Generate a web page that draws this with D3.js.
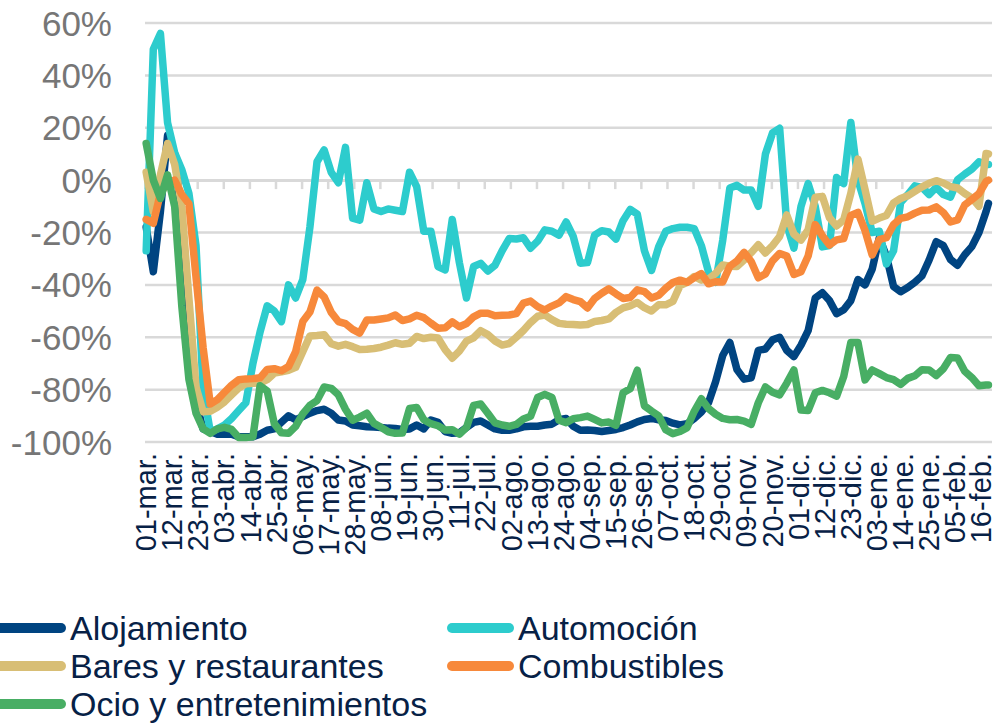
<!DOCTYPE html>
<html>
<head>
<meta charset="utf-8">
<script src="https://cdn.jsdelivr.net/npm/d3@7"></script>
<style>
  body { margin: 0; background: #fff; }
  svg text { font-family: "Liberation Sans", Arial, sans-serif; }
</style>
</head>
<body>
<svg id="chart" width="1000" height="724"></svg>
<script>
// sampled days (offset from 01-mar-2020), one value every 3 days
var sampleDays = d3.range(0, 355, 3).concat([355]);

var tickLabels = ['01-mar.','12-mar.','23-mar.','03-abr.','14-abr.','25-abr.','06-may.','17-may.','28-may.',
  '08-jun.','19-jun.','30-jun.','11-jul.','22-jul.','02-ago.','13-ago.','24-ago.','04-sep.','15-sep.',
  '26-sep.','07-oct.','18-oct.','29-oct.','09-nov.','20-nov.','01-dic.','12-dic.','23-dic.','03-ene.',
  '14-ene.','25-ene.','05-feb.','16-feb.'];

var yTicks = [60, 40, 20, 0, -20, -40, -60, -80, -100];

var alojamiento = [
  -18, -35, -12, 17, 10, -15, -62, -85, -95, -96,
  -97, -97, -97, -98, -98, -98, -97, -95.5, -95, -92.5,
  -90, -91.5, -90.3, -89, -88, -87.5, -89, -91.6, -92, -93.5,
  -93.8, -94.2, -94.3, -94.5, -94.7, -94.8, -95.2, -95, -93.5, -95,
  -91.6, -92.5, -96, -96.7, -96.5, -94.5, -92.5, -92, -93.5, -95,
  -95.5, -95.5, -95, -94.2, -94, -94, -93.5, -93.2, -91.5, -91,
  -94, -95.5, -95.4, -95.6, -96, -95.6, -95.2, -94.5, -93.5, -92.3,
  -91.4, -91, -91.5, -91.8, -92.8, -93.5, -93, -91, -88.5, -85,
  -77, -67, -62, -72.3, -76, -75.5, -65, -64.5, -61, -60,
  -65, -67.4, -63, -57.5, -45, -43, -46, -51, -49.5, -46,
  -38, -40, -34, -22, -29, -40.6, -42.6, -41, -39, -36.5,
  -30.5, -23.5, -25, -30.3, -32.5, -28.5, -25.4, -20, -12, -8.9];

var automocion = [
  -27, 50, 56, 22, 10.5, 4, -5, -25, -80, -96,
  -95, -93.5, -91, -88, -85, -70, -58, -48, -50, -54,
  -40, -45, -38, -18, 7, 11.5, 3, -1, 12.5, -14.5,
  -15.3, -1, -11, -12, -11, -11.5, -12, 3, -2.5, -19.5,
  -19.5, -33, -34.3, -15, -31.5, -45, -33, -31.8, -34.7, -32.5,
  -27, -22.3, -22.5, -22, -26, -23.3, -19, -19.5, -21, -16,
  -21.5, -31.7, -31.5, -21, -19.3, -19.8, -22.5, -15.5, -11.2, -13,
  -27, -34.5, -25.5, -19.5, -18.5, -18, -18, -18.5, -25, -35,
  -39, -23, -3, -2, -3.8, -3.8, -10, 10, 18, 19.8,
  -17, -26, -10, -1.3, -10, -25.5, -25, 1, -1.3, 22,
  0, -9, -20, -19.5, -32, -27, -8.5, -5.5, -2.2, -2.8,
  -5.5, -2.8, -5.5, -6.5, 0.2, 2.3, 4.2, 7, 6, 6];

var bares = [
  3, -12, 2, 14, 6, -10, -45, -79, -88.5, -88.3,
  -86.7, -84.7, -82, -79.4, -77.8, -77.6, -77.5, -76.2, -73.7, -73.2,
  -72.6, -71.5, -65.5, -59.5, -59.3, -59, -62.5, -63.4, -62.7, -63.6,
  -64.7, -64.6, -64.3, -63.8, -63, -62.1, -62.7, -62.3, -59.7, -60.5,
  -60, -60.3, -64.7, -68, -65.3, -61.5, -60.2, -57.5, -59, -61.4,
  -63, -62.4, -60, -57.4, -54.4, -52, -51.5, -53.3, -54.7, -55,
  -55.1, -55.3, -55.1, -54, -53.6, -53, -50.5, -48.8, -48, -46.7,
  -48.7, -50, -47.6, -47.6, -46.3, -40.3, -39, -36.8, -38.2, -37.8,
  -35.6, -32.4, -32.9, -33, -30.5, -27.7, -24.7, -27.8, -25, -21.5,
  -13.3, -20.6, -22.9, -19, -6.5, -6.2, -14.4, -17.5, -15.2, -5,
  8, -3.6, -15.7, -14.5, -13.5, -8.7, -7, -6, -4.3, -2.6,
  -1.2, -0.2, -1.1, -2.5, -3, -5.1, -6.8, -10, 10.2, 10];

var combustibles = [
  -15, -16.5, -5, -1, 0, -5.5, -9, -37, -64, -85.5,
  -83.8, -81, -78.3, -76.2, -75.9, -75.8, -75.5, -72.3, -72, -72.8,
  -71.2, -65.5, -54, -50.4, -42, -44.6, -50.5, -54, -54.8, -57,
  -58.4, -53.4, -53.4, -53, -52.6, -51.5, -53.6, -53, -51.6, -52.5,
  -54.6, -56.6, -56.4, -54.1, -56, -54.8, -52.2, -50.8, -50.8, -51.8,
  -51.6, -51.5, -51, -47, -46.2, -48.3, -49.6, -48.1, -46.9, -44.5,
  -45.6, -46.4, -48.8, -45.2, -43.2, -41.5, -43.4, -45.2, -44.8, -41.9,
  -42.6, -45, -44, -41.3, -39.1, -38.2, -39, -37.2, -35.7, -39.6,
  -38.8, -38.9, -32.9, -30.9, -27.6, -31.1, -37.3, -35.8, -30.8, -28,
  -29, -36, -35, -29, -17, -21.2, -24.8, -22.8, -22.3, -13.5,
  -12.3, -19.3, -28.6, -22.7, -22, -17, -14.6, -14, -12.6, -11.5,
  -11.4, -10.2, -12.4, -16, -15.2, -9.5, -7.4, -5.2, -0.6, 0];

var ocio = [
  14, 0, -7, 2, -10, -48, -76, -89, -95, -96.7,
  -95, -94.4, -95.2, -98.3, -98.3, -98, -78.5, -80.5, -93, -96.5,
  -96.7, -94, -89.3, -86, -84.2, -79, -79.5, -82, -87.5, -91.7,
  -90.5, -89, -92.9, -94.4, -96.1, -96.7, -96.6, -87.2, -86.8, -91.5,
  -93, -93.8, -95.4, -95.3, -97, -94.5, -86, -85.5, -89, -92.7,
  -93.5, -94, -93.3, -91.2, -90.2, -83, -81.8, -83, -91.7, -92.6,
  -91.1, -90.7, -90.1, -91.4, -92.7, -92.4, -93.6, -81.2, -79.7, -72.6,
  -86.2, -88.2, -90, -95.3, -96.8, -96, -94.5, -88.3, -83.5, -87.2,
  -89.4, -91, -91.5, -91.4, -92, -93.3, -85, -79, -81, -82,
  -77.5, -72.5, -87.8, -88, -81.2, -80.3, -81.2, -82.5, -75, -62,
  -62, -76.3, -72.5, -73.9, -75.4, -76.2, -78, -75.7, -74.7, -72.4,
  -72.5, -74.6, -72, -67.7, -67.9, -73, -75.4, -78.5, -78.2, -78.2];

var seriesNames = ['Alojamiento', 'Automoción', 'Bares y restaurantes', 'Combustibles', 'Ocio y entretenimientos'];
var seriesValues = [alojamiento, automocion, bares, combustibles, ocio];
var seriesColors = ['#004481', '#2dcccd', '#d8be75', '#f7893b', '#48ae64'];

function createChart() {
  var svg = d3.select('#chart');
  var totalDays = 357,
      left = 145, right = 992,
      top = 23, bottom = 442;

  var xScale = d3.scaleLinear().domain([0, totalDays]).range([left, right]);
  var yScale = d3.scaleLinear().domain([-100, 60]).range([bottom, top]);

  // gridlines
  svg.append('g')
    .selectAll('line')
    .data(yTicks)
    .enter().append('line')
    .attr('x1', left).attr('x2', right)
    .attr('y1', d => yScale(d)).attr('y2', d => yScale(d))
    .attr('stroke', '#d9d9d9')
    .attr('stroke-width', 2.5);

  // category axis crossing at 0%
  var xAxis = d3.axisBottom(xScale)
    .tickValues(d3.range(0, totalDays, 11))
    .tickSize(9)
    .tickSizeOuter(0)
    .tickFormat('');
  var axisG = svg.append('g')
    .attr('transform', `translate(0, ${yScale(0)})`)
    .call(xAxis);
  axisG.select('.domain').attr('stroke', '#d9d9d9').attr('stroke-width', 2.5);
  axisG.selectAll('.tick line').attr('stroke', '#d9d9d9').attr('stroke-width', 2.5);

  // x labels (rotated, low position)
  svg.append('g')
    .selectAll('text')
    .data(tickLabels)
    .enter().append('text')
    .attr('transform', (d, i) => `translate(${xScale(i * 11 + 0.5)}, 453) rotate(-90)`)
    .attr('text-anchor', 'end')
    .attr('dominant-baseline', 'central')
    .attr('font-size', 29)
    .attr('fill', '#072146')
    .text(d => d);

  // y labels
  svg.append('g')
    .selectAll('text')
    .data(yTicks)
    .enter().append('text')
    .attr('x', 112)
    .attr('y', d => yScale(d))
    .attr('text-anchor', 'end')
    .attr('dominant-baseline', 'central')
    .attr('font-size', 35)
    .attr('fill', '#767676')
    .text(d => d + '%');

  var line = d3.line()
    .x((d, i) => xScale(sampleDays[i] + 0.5))
    .y(d => yScale(d));

  seriesValues.forEach(function(values, k) {
    svg.append('path')
      .datum(values)
      .attr('fill', 'none')
      .attr('stroke', seriesColors[k])
      .attr('stroke-width', 7.5)
      .attr('stroke-linejoin', 'round')
      .attr('stroke-linecap', 'round')
      .attr('d', line);
  });

  // legend, two columns
  var legendX = [0, 448], legendY = [628, 666, 704];
  seriesNames.forEach(function(name, k) {
    var col = k % 2, row = Math.floor(k / 2);
    var g = svg.append('g')
      .attr('transform', `translate(${legendX[col]}, ${legendY[row]})`);
    g.append('line')
      .attr('x1', col === 0 ? -10 : 4).attr('x2', 61)
      .attr('stroke', seriesColors[k])
      .attr('stroke-width', 10)
      .attr('stroke-linecap', 'round');
    g.append('text')
      .attr('x', 70)
      .attr('dominant-baseline', 'central')
      .attr('font-size', 34)
      .attr('fill', '#072146')
      .text(name);
  });
}

createChart();
</script>
</body>
</html>
